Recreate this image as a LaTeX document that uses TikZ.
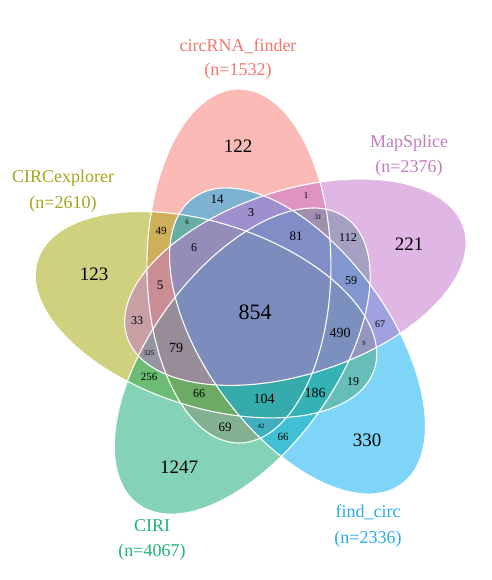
\documentclass[tikz,border=0pt]{standalone}
\usepackage{fontspec}
\setmainfont{Liberation Serif}
\definecolor{cRed}{RGB}{248,118,109}
\definecolor{cOlive}{RGB}{163,165,0}
\definecolor{cGreen}{RGB}{10,168,110}
\definecolor{cBlue}{RGB}{0,172,242}
\definecolor{cPink}{RGB}{195,110,205}
\definecolor{tRed}{RGB}{240,120,110}
\definecolor{tOlive}{RGB}{165,165,30}
\definecolor{tGreen}{RGB}{30,180,120}
\definecolor{tBlue}{RGB}{40,170,235}
\definecolor{tPink}{RGB}{195,125,190}
\tikzset{
  setshape/.style={x radius=92, y radius=177},
  num/.style={inner sep=0pt, text=black, font=\fontsize{#1}{#1}\selectfont},
  ttl/.style={inner sep=0pt, font=\fontsize{18}{18}\selectfont, text=#1}
}
\begin{document}
\begin{tikzpicture}[x=1pt,y=1pt]
\useasboundingbox (0,0) rectangle (491,580);
\fill[white] (0,0) rectangle (491,580);
% fills
\begin{scope}[fill opacity=0.5]
\fill[cRed]   [shift={(238.9,314.0)}] (0,0) ellipse [setshape];
\fill[cOlive] [shift={(206.0,265.3)}, rotate=72] (0,0) ellipse [setshape];
\fill[cGreen] [shift={(242.2,218.9)}, rotate=144] (0,0) ellipse [setshape];
\fill[cBlue]  [shift={(297.5,239.0)}, rotate=-144] (0,0) ellipse [setshape];
\fill[cPink]  [shift={(295.4,297.8)}, rotate=-72] (0,0) ellipse [setshape];
\end{scope}
% outlines
\begin{scope}[draw=white, line width=1.1pt]
\draw [shift={(238.9,314.0)}] (0,0) ellipse [setshape];
\draw [shift={(206.0,265.3)}, rotate=72] (0,0) ellipse [setshape];
\draw [shift={(242.2,218.9)}, rotate=144] (0,0) ellipse [setshape];
\draw [shift={(297.5,239.0)}, rotate=-144] (0,0) ellipse [setshape];
\draw [shift={(295.4,297.8)}, rotate=-72] (0,0) ellipse [setshape];
\end{scope}
% titles
\node[ttl=tRed]   (tA)  at (238,534) {circRNA\_finder};
\node[ttl=tRed]   (nA)  at (238,509) {(n=1532)};
\node[ttl=tPink]  (tB)  at (409,437) {MapSplice};
\node[ttl=tPink]  (nB)  at (409,412) {(n=2376)};
\node[ttl=tOlive] (tE)  at (63,402) {CIRCexplorer};
\node[ttl=tOlive] (nE)  at (63,376) {(n=2610)};
\node[ttl=tGreen] (tD)  at (152,54) {CIRI};
\node[ttl=tGreen] (nD)  at (152,28) {(n=4067)};
\node[ttl=tBlue]  (tC)  at (368,68) {find\_circ};
\node[ttl=tBlue]  (nC)  at (368,41) {(n=2336)};
% counts
\node[num=19] (r1) at (238,434) {122};
\node[num=19] (r2) at (409,336) {221};
\node[num=19] (r3) at (367,140) {330};
\node[num=19] (r4) at (179,113) {1247};
\node[num=19] (r5) at (94,306) {123};
\node[num=22] (r6) at (255,268) {854};
\node[num=13] (r7) at (217,381) {14};
\node[num=9] (r8) at (306,384) {1};
\node[num=11] (r9) at (161,349) {49};
\node[num=7] (r10) at (187,358) {6};
\node[num=12] (r11) at (251,367) {3};
\node[num=7] (r12) at (318,363) {31};
\node[num=13] (r13) at (296,344) {81};
\node[num=12] (r14) at (194,332) {6};
\node[num=12] (r15) at (348,342) {112};
\node[num=12] (r16) at (351,299) {59};
\node[num=13] (r17) at (160,295) {5};
\node[num=12] (r18) at (137,259) {33};
\node[num=14] (r19) at (340,247) {490};
\node[num=10] (r20) at (380,256) {67};
\node[num=6.5] (r21) at (364,237) {9};
\node[num=7] (r22) at (149,227) {325};
\node[num=14] (r23) at (176,232) {79};
\node[num=11] (r24) at (149,203) {256};
\node[num=12] (r25) at (199,186) {66};
\node[num=14] (r26) at (264,181) {104};
\node[num=14] (r27) at (315,187) {186};
\node[num=12] (r28) at (353,198) {19};
\node[num=13] (r29) at (225,153) {69};
\node[num=6.5] (r30) at (261,154) {42};
\node[num=11] (r31) at (283,143) {66};
\end{tikzpicture}
\end{document}
